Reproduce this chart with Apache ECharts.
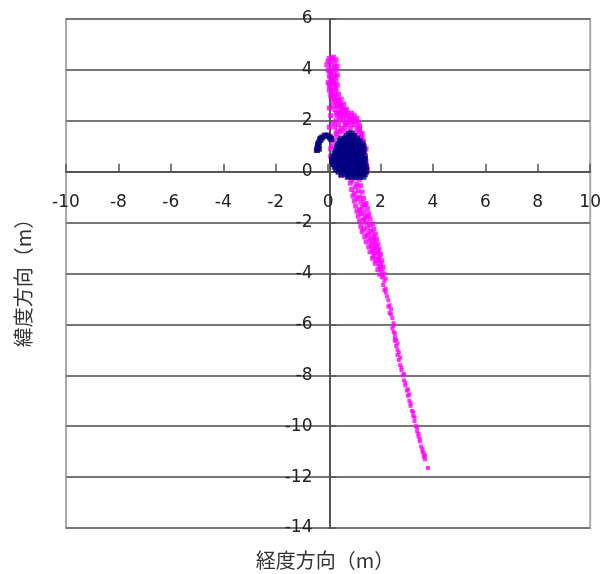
<!DOCTYPE html>
<html>
<head>
<meta charset="utf-8">
<script src="https://cdn.jsdelivr.net/npm/echarts@6/dist/echarts.min.js"></script>
<style>
html,body{margin:0;padding:0;background:#fff;}
#chart{width:604px;height:574px;}
</style>
</head>
<body>
<div id="chart"></div>
<script>
// axis ranges and ticks
const xTicks = [-10, -8, -6, -4, -2, 0, 2, 4, 6, 8, 10];
const yTicks = [-14, -12, -10, -8, -6, -4, -2, 0, 2, 4, 6];
const xName = '経度方向（m）';
const yName = '緯度方向（m）';

// magenta series
const magentaUpper = [
  [0.05,4.45],[0.2,4.5],[0.3,4.4],[0.1,4.3],[0.25,4.25],[-0.05,4.2],[0.35,4.15],[0.15,4.1],[0.0,4.0],[0.3,4.0],
  [0.1,3.9],[0.2,3.85],[0.35,3.8],[0.05,3.75],[0.25,3.7],[0.15,3.6],[0.3,3.55],[0.0,3.5],[0.2,3.45],[0.35,3.4],
  [0.1,3.35],[0.25,3.3],[0.05,3.2],[0.15,3.15],[0.3,3.1],[0.4,3.05],[0.1,3.0],[0.2,2.95],[0.35,2.9],[0.5,2.85],
  [0.15,2.8],[0.3,2.75],[0.45,2.7],[0.6,2.65],[0.2,2.6],[0.4,2.55],[0.55,2.5],[0.25,2.45],[0.45,2.4],[0.65,2.4],
  [0.3,2.3],[0.5,2.3],[0.75,2.3],[0.9,2.3],[0.35,2.2],[0.6,2.2],[0.8,2.2],[1.0,2.2],[0.45,2.1],[0.7,2.1],
  [0.9,2.05],[1.1,2.1],[0.3,2.0],[0.55,2.0],[0.8,1.95],[1.15,1.95],[0.4,1.85],[0.65,1.85],[1.0,1.85],[1.2,1.8],
  [0.25,1.75],[0.5,1.7],[0.85,1.7],[1.1,1.7],[0.35,1.6],[0.6,1.6],[1.2,1.6],[0.3,1.5],[1.3,1.5],[0.35,1.35],
  [1.25,1.35],[0.2,1.2],[1.35,1.2],[0.15,1.0],[1.35,1.0],[1.4,0.8],[0.2,0.5],[1.4,0.5],[0.3,0.2],[1.4,0.3],
  [0.6,0.0],[1.2,0.0],[0.1,0.9],[0.1,0.6],[0.15,0.3],[1.45,0.9],[1.45,0.4],[1.5,0.1],[0.5,-0.15],
  [-0.45,0.85],[-0.4,1.1],[-0.3,1.3],[-0.15,1.42],[0.05,1.4],[0.15,1.3],
  [0.05,2.5],[0.1,2.2],[0.2,1.9],[0.05,1.75],[0.65,1.75],[0.95,2.0],[1.05,1.5],[0.7,2.45],
  [0.0,4.35],[0.15,4.45],[0.25,4.1],[0.05,3.95],[0.3,3.75],[0.1,3.65],[0.2,3.5],[0.05,3.4],[0.3,3.25],[0.15,3.05],
  [0.25,2.85],[0.4,2.8],[0.35,2.6],[0.5,2.6],[0.55,2.4],[0.4,2.3],[0.65,2.3],[0.5,2.15],[0.85,2.1],[1.05,2.0],
  [0.7,1.9],[0.9,1.85],[1.2,1.7],[0.45,1.55],[1.3,1.3],[1.25,1.45]
];
const magentaLower = [
  [0.8,-0.2],[1.0,-0.25],[1.2,-0.3],[0.85,-0.45],[1.1,-0.5],[1.25,-0.55],[0.9,-0.7],[1.15,-0.75],[1.3,-0.8],[0.95,-0.95],
  [1.2,-1.0],[1.35,-1.05],[1.0,-1.15],[1.25,-1.2],[1.45,-1.25],[1.05,-1.35],[1.3,-1.4],[1.5,-1.45],[1.1,-1.55],[1.35,-1.6],
  [1.55,-1.65],[1.15,-1.75],[1.4,-1.8],[1.6,-1.85],[1.2,-1.95],[1.45,-2.0],[1.7,-2.05],[1.25,-2.15],[1.5,-2.2],[1.75,-2.25],
  [1.3,-2.35],[1.55,-2.4],[1.8,-2.45],[1.4,-2.55],[1.65,-2.6],[1.85,-2.65],[1.45,-2.75],[1.7,-2.8],[1.9,-2.85],[1.55,-2.95],
  [1.75,-3.0],[1.95,-3.05],[1.6,-3.15],[1.8,-3.2],[2.0,-3.25],[1.7,-3.4],[1.9,-3.45],[2.05,-3.5],[1.8,-3.6],[1.95,-3.7],
  [2.1,-3.75],[1.9,-3.85],[2.05,-3.95],[2.15,-4.0],[2.05,-4.15],[2.15,-4.3],[2.1,-4.45],[2.2,-4.6],[2.2,-4.75],[2.25,-4.9],
  [2.3,-5.05],[2.35,-5.25],[2.4,-5.4],[2.35,-5.55],[2.45,-5.75],[2.5,-5.95],[2.45,-6.15],[2.5,-6.3],[2.55,-6.5],[2.55,-6.65],
  [2.6,-6.85],[2.65,-7.0],[2.65,-7.2],[2.7,-7.4],[2.75,-7.6],[2.8,-7.8],[2.85,-8.0],[2.9,-8.2],[2.95,-8.4],[3.0,-8.6],
  [3.05,-8.8],[3.1,-9.0],[3.15,-9.2],[3.2,-9.4],[3.25,-9.6],[3.3,-9.8],[3.35,-10.0],[3.4,-10.2],[3.45,-10.4],[3.5,-10.6],
  [3.55,-10.8],[3.6,-11.0],[3.65,-11.2],[3.7,-11.3],[3.81,-11.64],
  [0.9,-0.35],[1.05,-0.6],[1.0,-0.85],[1.1,-1.05],[1.4,-1.3],[1.2,-1.5],[1.25,-1.65],[1.5,-1.75],[1.35,-1.9],[1.6,-2.1],
  [1.35,-2.25],[1.65,-2.35],[1.5,-2.5],[1.75,-2.55],[1.6,-2.7],[1.8,-2.75],[1.65,-2.9],[1.85,-2.95],[1.7,-3.1],[1.9,-3.15],
  [1.75,-3.3],[1.95,-3.35],[1.85,-3.5],[2.0,-3.6],[2.0,-3.8],[1.95,-4.05],[2.1,-4.1],[2.2,-4.2],[2.15,-4.65],[2.3,-5.3],
  [2.4,-5.6],[2.5,-6.05],[2.55,-6.35],[2.6,-6.6],[2.65,-6.75],[2.7,-7.1],[2.75,-7.3],[2.8,-7.7],[2.9,-7.95],[2.95,-8.3],
  [3.05,-8.55],[3.1,-8.75],[3.15,-9.1],[3.25,-9.45],[3.3,-9.65],[3.4,-10.05],[3.45,-10.3],[3.5,-10.5],[3.6,-10.9],[3.65,-11.05],
  [3.7,-11.15]
];

// navy series
const navyPoints = [
  [0.8,1.5],[0.9,1.5],
  [0.7,1.4],[0.85,1.4],[1.0,1.4],
  [0.5,1.3],[0.65,1.3],[0.8,1.3],[0.95,1.3],[1.1,1.3],
  [0.45,1.2],[0.6,1.2],[0.75,1.2],[0.9,1.2],[1.05,1.2],[1.2,1.2],
  [0.4,1.1],[0.55,1.1],[0.7,1.1],[0.85,1.1],[1.0,1.1],[1.15,1.1],[1.3,1.1],
  [0.35,1.0],[0.5,1.0],[0.65,1.0],[0.8,1.0],[0.95,1.0],[1.1,1.0],[1.25,1.0],[1.35,1.0],
  [0.35,0.9],[0.5,0.9],[0.65,0.9],[0.8,0.9],[0.95,0.9],[1.1,0.9],[1.25,0.9],[1.35,0.9],
  [0.3,0.8],[0.45,0.8],[0.6,0.8],[0.75,0.8],[0.9,0.8],[1.05,0.8],[1.2,0.8],[1.35,0.8],
  [0.25,0.7],[0.4,0.7],[0.55,0.7],[0.7,0.7],[0.85,0.7],[1.0,0.7],[1.15,0.7],[1.3,0.7],
  [0.2,0.6],[0.35,0.6],[0.5,0.6],[0.65,0.6],[0.8,0.6],[0.95,0.6],[1.1,0.6],[1.25,0.6],[1.4,0.6],
  [0.15,0.5],[0.3,0.5],[0.45,0.5],[0.6,0.5],[0.75,0.5],[0.9,0.5],[1.05,0.5],[1.2,0.5],[1.4,0.5],
  [0.15,0.4],[0.3,0.4],[0.45,0.4],[0.6,0.4],[0.75,0.4],[0.9,0.4],[1.05,0.4],[1.2,0.4],[1.35,0.4],
  [0.2,0.3],[0.35,0.3],[0.5,0.3],[0.65,0.3],[0.8,0.3],[0.95,0.3],[1.1,0.3],[1.25,0.3],[1.4,0.3],
  [0.25,0.2],[0.4,0.2],[0.55,0.2],[0.7,0.2],[0.85,0.2],[1.0,0.2],[1.15,0.2],[1.3,0.2],[1.45,0.2],
  [0.3,0.1],[0.45,0.1],[0.6,0.1],[0.75,0.1],[0.9,0.1],[1.05,0.1],[1.2,0.1],[1.35,0.1],
  [0.4,0.0],[0.55,0.0],[0.7,0.0],[0.85,0.0],[1.0,0.0],[1.15,0.0],[1.3,0.0],[1.45,0.0],
  [0.5,-0.1],[0.65,-0.1],[0.8,-0.1],[0.95,-0.1],[1.1,-0.1],[1.25,-0.1],[1.4,-0.1],
  [0.75,-0.2],[0.9,-0.2],[1.05,-0.2],[1.2,-0.2],[1.35,-0.2],
  [-0.42,0.85],[-0.4,0.95],[-0.38,1.05],[-0.35,1.15],[-0.3,1.25],[-0.22,1.35],[-0.12,1.42],
  [-0.02,1.42],[0.07,1.35],[0.12,1.28],[-0.35,0.9],[-0.28,1.3]
];

const GL = 66, GR = 11, GT = 19, GB = 46, W = 604, H = 574;
const plotW = W - GL - GR, plotH = H - GT - GB;
const xMin = xTicks[0], xMax = xTicks[xTicks.length - 1];
const yMin = yTicks[0], yMax = yTicks[yTicks.length - 1];
// offsets that move each axis onto the other's zero
const xAxisOffset = -plotH * (0 - yMin) / (yMax - yMin);
const yAxisOffset = -plotW * (0 - xMin) / (xMax - xMin);

const chart = echarts.init(document.getElementById('chart'), null, {renderer: 'canvas'});
chart.setOption({
  animation: false,
  backgroundColor: '#fff',
  grid: {left: GL, right: GR, top: GT, bottom: GB,
         show: true, borderColor: '#aaa', borderWidth: 2, backgroundColor: '#fff'},
  graphic: [
    {type: 'text', x: 325, y: 560,
     style: {text: xName, fill: '#333', font: "20px 'Noto Sans CJK JP'", align: 'center', verticalAlign: 'middle'}},
    {type: 'text', x: 23, y: 278, rotation: Math.PI / 2,
     style: {text: yName, fill: '#333', font: "20px 'Noto Sans CJK JP'", align: 'center', verticalAlign: 'middle'}}
  ],
  xAxis: {
    type: 'value', position: 'bottom', offset: xAxisOffset,
    min: xMin, max: xMax, interval: 2,
    axisLine: {onZero: false, lineStyle: {color: '#555', width: 2}},
    axisTick: {inside: true, length: 8, lineStyle: {color: '#555', width: 1.5}},
    axisLabel: {fontSize: 17, color: '#222', margin: 22, fontFamily: 'DejaVu Sans'},
    splitLine: {show: false}
  },
  yAxis: {
    type: 'value', position: 'left', offset: yAxisOffset,
    min: yMin, max: yMax, interval: 2,
    axisLine: {onZero: false, lineStyle: {color: '#555', width: 2}},
    axisTick: {inside: true, length: 7, lineStyle: {color: '#555', width: 1.5}},
    axisLabel: {fontSize: 17, color: '#222', margin: 17, fontFamily: 'DejaVu Sans'},
    splitLine: {show: true, lineStyle: {color: '#777', width: 2}}
  },
  series: [
    {type: 'scatter', name: 'm', data: magentaUpper.concat(magentaLower), symbol: 'rect',
     symbolSize: function (v) { return v[1] > -4 ? 5 : 4; },
     itemStyle: {color: '#ff00ff'}, z: 3},
    {type: 'scatter', name: 'n', data: navyPoints, symbol: 'rect', symbolSize: 6,
     itemStyle: {color: '#000080'}, z: 4}
  ]
});
</script>
</body>
</html>
